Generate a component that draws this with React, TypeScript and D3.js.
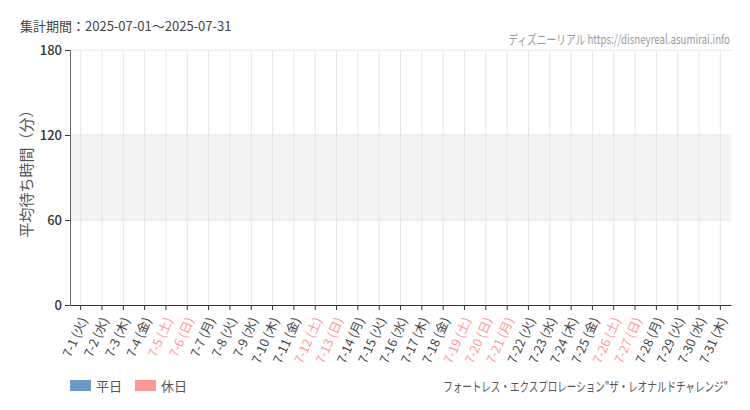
import React, { useEffect, useRef } from 'react'
import * as d3 from 'd3'

// Days of the period and their weekday marks
const days = [
  '7-1', '7-2', '7-3', '7-4', '7-5', '7-6', '7-7', '7-8', '7-9', '7-10',
  '7-11', '7-12', '7-13', '7-14', '7-15', '7-16', '7-17', '7-18', '7-19', '7-20',
  '7-21', '7-22', '7-23', '7-24', '7-25', '7-26', '7-27', '7-28', '7-29', '7-30', '7-31',
]
const weekdays = [
  '火', '水', '木', '金', '土', '日', '月', '火', '水', '木',
  '金', '土', '日', '月', '火', '水', '木', '金', '土', '日',
  '月', '火', '水', '木', '金', '土', '日', '月', '火', '水', '木',
]
const holidays = ['7-5', '7-6', '7-12', '7-13', '7-19', '7-20', '7-21', '7-26', '7-27']
// No waiting-time data recorded for this attraction in the period
const waitMinutes: (number | null)[] = days.map(() => null)
const yTicks = [0, 60, 120, 180]

const FONT = '"Noto Sans CJK JP", "Noto Sans", sans-serif'
const BLUE = '#6b9ac8'
const PINK = '#ff9797'

const App: React.FC = () => {
  const ref = useRef<SVGSVGElement | null>(null)

  useEffect(() => {
    if (!ref.current) return
    const svg = d3.select(ref.current)
    svg.selectAll('*').remove()

    const margin = { top: 50, right: 19, bottom: 105, left: 70 }
    const width = 750 - margin.left - margin.right
    const height = 410 - margin.top - margin.bottom

    const x = d3.scaleBand<string>().domain(days).range([0, width])
    const y = d3.scaleLinear().domain([0, 180]).range([height, 0])

    const g = svg.append('g').attr('transform', `translate(${margin.left},${margin.top})`)

    // shaded band between 60 and 120
    g.append('rect')
      .attr('x', 0)
      .attr('y', y(120))
      .attr('width', width)
      .attr('height', y(60) - y(120))
      .attr('fill', '#f4f4f4')

    // vertical grid
    g.selectAll('.vgrid')
      .data(days)
      .join('line')
      .attr('x1', d => (x(d) as number) + x.bandwidth() / 2)
      .attr('x2', d => (x(d) as number) + x.bandwidth() / 2)
      .attr('y1', 0)
      .attr('y2', height)
      .attr('stroke', '#e6e6e6')

    // horizontal grid
    g.selectAll('.hgrid')
      .data(yTicks.filter(t => t > 0))
      .join('line')
      .attr('x1', 0)
      .attr('x2', width)
      .attr('y1', d => y(d))
      .attr('y2', d => y(d))
      .attr('stroke', '#e6e6e6')

    // bars (none when there is no data)
    g.selectAll('.bar')
      .data(days.map((d, i) => ({ d, v: waitMinutes[i] })).filter(e => e.v !== null))
      .join('rect')
      .attr('x', e => (x(e.d) as number) + 2)
      .attr('width', x.bandwidth() - 4)
      .attr('y', e => y(e.v as number))
      .attr('height', e => height - y(e.v as number))
      .attr('fill', e => (holidays.includes(e.d) ? PINK : BLUE))

    // y axis
    const yAxis = g.append('g')
      .call(d3.axisLeft(y).tickValues(yTicks).tickSize(5).tickPadding(3))
    yAxis.select('.domain').attr('stroke', '#666')
    yAxis.selectAll('.tick line').attr('stroke', '#333')
    yAxis.selectAll('text')
      .attr('font-family', FONT)
      .attr('font-size', 13)
      .attr('font-weight', 500)
      .attr('fill', '#333')

    // x axis
    const xAxis = g.append('g')
      .attr('transform', `translate(0,${height})`)
      .call(d3.axisBottom(x).tickSize(5).tickSizeOuter(0).tickFormat((d, i) => `${d} (${weekdays[i]})`))
    xAxis.select('.domain').attr('stroke', '#333')
    xAxis.selectAll('.tick line').attr('stroke', '#333')
    xAxis.selectAll<SVGTextElement, string>('text')
      .attr('font-family', FONT)
      .attr('font-size', 12.5)
      .attr('fill', d => (holidays.includes(d) ? PINK : '#444'))
      .attr('text-anchor', 'end')
      .attr('dy', '0.35em')
      .attr('transform', 'translate(3,13) rotate(-66)')
      .attr('y', 0)
      .attr('x', 0)

    // y title
    svg.append('text')
      .attr('transform', `translate(32,170) rotate(-90)`)
      .attr('text-anchor', 'middle')
      .attr('font-family', FONT)
      .attr('font-size', 15)
      .attr('fill', '#555')
      .text('平均待ち時間（分）')

    // header
    svg.append('text')
      .attr('x', 20)
      .attr('y', 31)
      .attr('font-family', FONT)
      .attr('font-size', 13)
      .attr('fill', '#444')
      .text('集計期間：2025-07-01～2025-07-31')

    // narrow right-aligned texts: squeeze horizontally to the reference width
    const narrowText = (txt: string, right: number, base: number, targetW: number, color: string) => {
      const t = svg.append('text')
        .attr('text-anchor', 'end')
        .attr('font-family', FONT)
        .attr('font-size', 13)
        .attr('fill', color)
        .text(txt)
      const w = (t.node() as SVGTextElement).getComputedTextLength() || targetW
      const k = Math.min(1, targetW / w)
      t.attr('transform', `translate(${right},${base}) scale(${k},1)`)
    }
    narrowText('ディズニーリアル https://disneyreal.asumirai.info', 730, 44, 222, '#999')

    // legend
    const legend = [
      { label: '平日', color: BLUE, x: 70 },
      { label: '休日', color: PINK, x: 135 },
    ]
    legend.forEach(l => {
      svg.append('rect')
        .attr('x', l.x).attr('y', 380).attr('width', 21).attr('height', 11)
        .attr('fill', l.color)
      svg.append('text')
        .attr('x', l.x + 26).attr('y', 391)
        .attr('font-family', FONT).attr('font-size', 13).attr('fill', '#555')
        .text(l.label)
    })

    narrowText('フォートレス・エクスプロレーション"ザ・レオナルドチャレンジ"', 728, 391, 285, '#555')
  }, [])

  return (
    <svg
      ref={ref}
      width={750}
      height={410}
      style={{ display: 'block', position: 'absolute', left: 0, top: 0, background: '#fff' }}
    />
  )
}

export default App
